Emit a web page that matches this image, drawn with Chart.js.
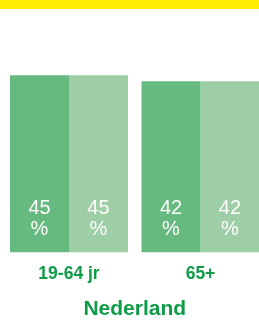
<!DOCTYPE html>
<html>
<head>
<meta charset="utf-8">
<script src="https://cdn.jsdelivr.net/npm/chart.js@4.4.1/dist/chart.umd.min.js"></script>
<style>
  html, body { margin: 0; padding: 0; background: #fff; overflow: hidden; }
  #wrap { position: relative; width: 259px; height: 335px; overflow: hidden; }
  #band { position: absolute; left: 0; top: 0; width: 259px; height: 9px; background: #ffed00; z-index: 2; }
  #viz { position: absolute; left: 0; top: 0; }
</style>
</head>
<body>
<div id="wrap">
  <div id="band"></div>
  <canvas id="viz" width="270" height="335"></canvas>
</div>
<script>
// chart data
const groups = ['19-64 jr', '65+'];
const seriesDark = [45, 42];
const seriesLight = [45, 42];
const axisTitle = 'Nederland';

const green = '#0e9c48';
const font = 'Liberation Sans, Arial, sans-serif';

// white value labels at the foot of every bar
const barLabels = {
  id: 'barLabels',
  afterDatasetsDraw(chart) {
    const ctx = chart.ctx;
    ctx.save();
    ctx.fillStyle = '#ffffff';
    ctx.font = '20px ' + font;
    ctx.textAlign = 'center';
    ctx.textBaseline = 'middle';
    chart.data.datasets.forEach((ds, i) => {
      chart.getDatasetMeta(i).data.forEach((bar, j) => {
        ctx.fillText(String(ds.data[j]), bar.x, bar.base - 44);
        ctx.fillText('%', bar.x, bar.base - 23);
      });
    });
    ctx.restore();
  }
};

const ctx = document.getElementById('viz');
const chart = new Chart(ctx, {
  type: 'bar',
  data: {
    labels: groups,
    datasets: [
      { data: seriesDark, backgroundColor: '#66b97f', base: -43.5 },
      { data: seriesLight, backgroundColor: '#9dcea6', base: -43.5 }
    ]
  },
  options: {
    responsive: false,
    animation: false,
    devicePixelRatio: 1,
    categoryPercentage: 0.897,
    barPercentage: 1,
    layout: { padding: { left: 3.25, right: 3.75, top: 15, bottom: 0 } },
    plugins: { legend: { display: false }, tooltip: { enabled: false } },
    scales: {
      x: {
        grid: { display: false },
        border: { display: false },
        ticks: {
          color: green,
          padding: 3,
          font: { family: font, size: 17.5, weight: 'bold' }
        },
        title: {
          display: true,
          text: axisTitle,
          color: green,
          padding: { top: 8, bottom: 13 },
          font: { family: font, size: 21, weight: 'bold' }
        },
        afterFit: s => { s.height = 82.5; }
      },
      y: {
        display: false,
        min: -43.5,
        max: 75
      }
    }
  },
  plugins: [barLabels]
});
</script>
</body>
</html>
